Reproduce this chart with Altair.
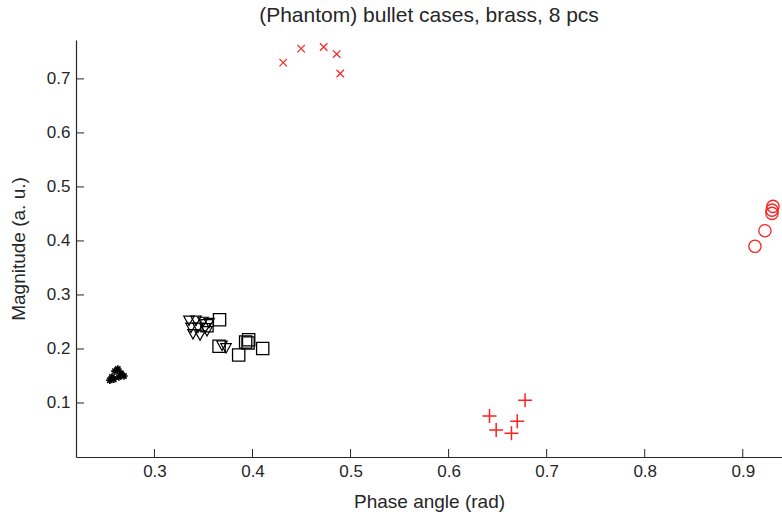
import altair as alt
import pandas as pd

# Phase angle (rad) and magnitude (a. u.) per marker group
star_x = [0.2566, 0.2597, 0.2627, 0.2658, 0.2689, 0.2586, 0.2637, 0.2545]
star_y = [0.148, 0.159, 0.163, 0.155, 0.150, 0.144, 0.148, 0.142]

tri_x = [0.3352, 0.3424, 0.3495, 0.3557, 0.3373, 0.3444, 0.3516, 0.3393, 0.3465, 0.3536, 0.3730, 0.3689]
tri_y = [0.253, 0.253, 0.251, 0.249, 0.240, 0.240, 0.239, 0.228, 0.226, 0.2335, 0.202, 0.207]

sq_x = [0.3664, 0.3659, 0.3859, 0.3930, 0.3961, 0.4104, 0.3536, 0.3955]
sq_y = [0.254, 0.205, 0.189, 0.213, 0.217, 0.201, 0.243, 0.211]

xm_x = [0.4313, 0.4496, 0.4726, 0.4859, 0.4895]
xm_y = [0.730, 0.756, 0.759, 0.746, 0.710]

circ_x = [0.9124, 0.9226, 0.9298, 0.9308, 0.9298]
circ_y = [0.390, 0.419, 0.457, 0.464, 0.451]

plus_x = [0.6417, 0.6485, 0.6641, 0.6700, 0.6780]
plus_y = [0.076, 0.050, 0.044, 0.066, 0.105]

x_ticks = [0.3, 0.4, 0.5, 0.6, 0.7, 0.8, 0.9]
y_ticks = [0.1, 0.2, 0.3, 0.4, 0.5, 0.6, 0.7]

X_DOMAIN = [0.22, 0.94]
Y_DOMAIN = [0.0, 0.772]
W, H = 706, 417
FONT = "Liberation Sans"
TEXT = "#262626"

ASTERISK = "M-1,0L1,0M0,-1L0,1M-0.7,-0.7L0.7,0.7M-0.7,0.7L0.7,-0.7"
PLUS = "M-1,0L1,0M0,-1L0,1"
XMARK = "M-1,-1L1,1M-1,1L1,-1"
TRIDOWN = "M-1,-0.8L1,-0.8L0,1Z"

xs = alt.Scale(domain=X_DOMAIN, nice=False, zero=False)
ys = alt.Scale(domain=Y_DOMAIN, nice=False, zero=False)


def group(xv, yv, shape, size, color, width=1.0):
    df = pd.DataFrame({"phase": xv, "mag": yv})
    return alt.Chart(df).mark_point(
        shape=shape, size=size, filled=False, stroke=color,
        strokeWidth=width, opacity=1, clip=True,
    ).encode(
        x=alt.X("phase:Q", scale=xs),
        y=alt.Y("mag:Q", scale=ys),
    )


base = alt.Chart(pd.DataFrame({"phase": [X_DOMAIN[0]], "mag": [Y_DOMAIN[0]]})).mark_point(opacity=0).encode(
    x=alt.X("phase:Q", scale=xs,
            axis=alt.Axis(values=x_ticks, format=".1f", ticks=False, grid=False,
                          title="Phase angle (rad)", labelPadding=6, titlePadding=13)),
    y=alt.Y("mag:Q", scale=ys,
            axis=alt.Axis(values=y_ticks, format=".1f", ticks=False, grid=False,
                          title="Magnitude (a. u.)", labelPadding=6, titlePadding=18)),
)

# inward-pointing tick marks
TICK = 8
xt = alt.Chart(pd.DataFrame({"t": x_ticks})).mark_rule(color="#262626", strokeWidth=1).encode(
    x=alt.X("t:Q", scale=xs), y=alt.value(H), y2=alt.value(H - TICK))
yt = alt.Chart(pd.DataFrame({"t": y_ticks})).mark_rule(color="#262626", strokeWidth=1).encode(
    y=alt.Y("t:Q", scale=ys), x=alt.value(0), x2=alt.value(TICK))

RED = "#ff2020"
chart = alt.layer(
    base, xt, yt,
    group(star_x, star_y, ASTERISK, 56, "black", 1.6),
    group(tri_x, tri_y, TRIDOWN, 110, "black", 1.2),
    group(sq_x, sq_y, "square", 150, "black", 1.3),
    group(xm_x, xm_y, XMARK, 56, RED, 1.2),
    group(circ_x, circ_y, "circle", 150, RED, 1.3),
    group(plus_x, plus_y, PLUS, 196, RED, 1.5),
).properties(
    width=W, height=H,
    title=alt.TitleParams("(Phantom) bullet cases, brass, 8 pcs", font=FONT, fontSize=21,
                          fontWeight="normal", color=TEXT, anchor="middle",
                          frame="group", baseline="bottom", offset=-7),
    autosize=alt.AutoSizeParams(type="none"),
    padding={"left": 76, "top": 40, "right": 0, "bottom": 61},
).configure_view(stroke=None).configure_axis(
    domainColor="#262626", domainWidth=1.2,
    labelFont=FONT, labelFontSize=17, labelColor=TEXT,
    titleFont=FONT, titleFontSize=19, titleFontWeight="normal", titleColor=TEXT,
)

chart.save("out.html", embed_options={"renderer": "svg", "actions": False})
